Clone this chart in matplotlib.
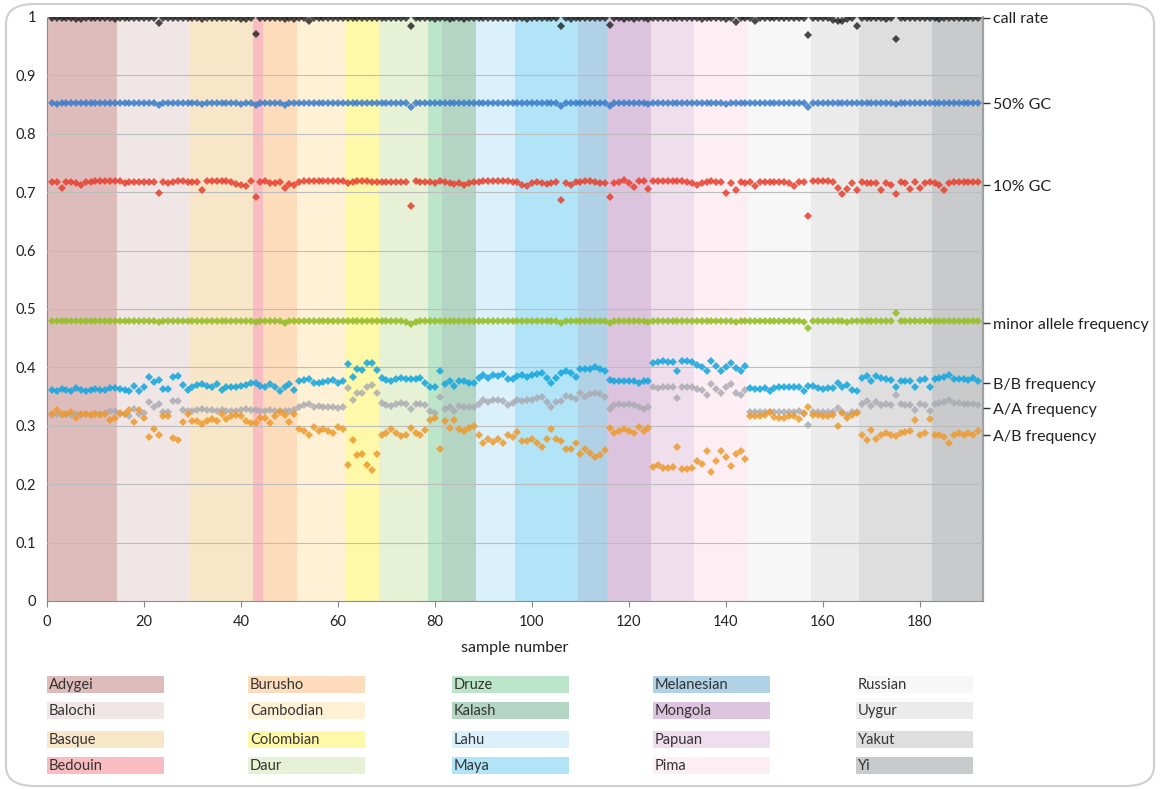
import numpy as np
import matplotlib.pyplot as plt
from matplotlib.patches import FancyBboxPatch, Rectangle

plt.rcParams['font.family'] = ['Lato', 'DejaVu Sans']

W, H = 1160, 789

POPULATIONS = ["Adygei", "Balochi", "Basque", "Bedouin", "Burusho", "Cambodian", "Colombian",
               "Daur", "Druze", "Kalash", "Lahu", "Maya", "Melanesian", "Mongola", "Papuan",
               "Pima", "Russian", "Uygur", "Yakut", "Yi"]
GROUP_SIZES = [14, 15, 13, 2, 7, 10, 7, 10, 3, 7, 8, 13, 6, 9, 9, 11, 13, 10, 15, 10]
BAND_COLORS = ["#dfbcbc", "#f1e6e6", "#f8e6c8", "#f9bcc0", "#fddcbc", "#fff1d6", "#fef9a8",
               "#e6f1d6", "#bde5c9", "#b5d5c4", "#daf0fa", "#b1e4f7", "#b0d1e6", "#dcc4de",
               "#efdeeb", "#fdeef3", "#f7f7f7", "#ebebeb", "#dedede", "#c9cacb"]

# one value per sample, lines follow the population order
CALL_RATE = [
    0.998, 0.998, 0.998, 0.998, 0.998, 0.997, 0.996, 0.998, 0.999, 0.999, 0.999, 0.999, 0.999, 0.996,
    0.999, 0.999, 0.999, 0.999, 0.999, 0.999, 0.999, 0.999, 0.989, 0.999, 0.999, 0.999, 0.999, 0.999, 0.998,
    0.999, 0.999, 0.996, 0.999, 0.999, 0.999, 0.999, 0.999, 0.999, 0.998, 0.997, 0.996, 0.999,
    0.971, 0.999,
    0.999, 0.999, 0.999, 0.999, 0.997, 0.999, 0.997,
    0.999, 0.999, 0.993, 0.999, 0.999, 0.999, 0.999, 0.999, 0.999, 0.999,
    0.999, 0.999, 0.999, 0.999, 0.999, 0.999, 0.999,
    0.999, 0.999, 0.999, 0.999, 0.999, 0.999, 0.984, 0.999, 0.999, 0.998,
    0.998, 0.997, 0.998,
    0.998, 0.997, 0.998, 0.998, 0.997, 0.998, 0.998,
    0.999, 0.999, 0.999, 0.999, 0.998, 0.999, 0.999, 0.999,
    0.998, 0.998, 0.996, 0.998, 0.998, 0.998, 0.998, 0.998, 0.998, 0.985, 0.998, 0.997, 0.998,
    0.998, 0.998, 0.998, 0.998, 0.998, 0.998,
    0.986, 0.998, 0.998, 0.996, 0.998, 0.997, 0.998, 0.998, 0.996,
    0.999, 0.999, 0.999, 0.999, 0.999, 0.999, 0.999, 0.999, 0.999,
    0.999, 0.996, 0.999, 0.999, 0.999, 0.999, 0.996, 0.999, 0.991, 0.999, 0.999,
    0.999, 0.993, 0.999, 0.999, 0.999, 0.999, 0.999, 0.999, 0.999, 0.998, 0.998, 0.998, 0.969,
    0.999, 0.999, 0.999, 0.999, 0.995, 0.993, 0.993, 0.996, 0.999, 0.985,
    0.999, 0.999, 0.999, 0.999, 0.999, 0.997, 0.999, 0.962, 0.999, 0.999, 0.998, 0.999, 0.999, 0.999, 0.999,
    0.998, 0.996, 0.998, 0.998, 0.998, 0.998, 0.998, 0.998, 0.998, 0.998,
]

GC_50 = [
    0.852, 0.851, 0.852, 0.852, 0.852, 0.852, 0.852, 0.852, 0.852, 0.852, 0.852, 0.852, 0.852, 0.852,
    0.852, 0.852, 0.852, 0.852, 0.852, 0.852, 0.852, 0.852, 0.849, 0.852, 0.852, 0.852, 0.852, 0.852, 0.852,
    0.852, 0.852, 0.851, 0.852, 0.852, 0.852, 0.852, 0.852, 0.852, 0.852, 0.851, 0.852, 0.852,
    0.849, 0.852,
    0.852, 0.852, 0.852, 0.852, 0.850, 0.852, 0.852,
    0.852, 0.852, 0.852, 0.852, 0.852, 0.852, 0.852, 0.852, 0.852, 0.852,
    0.852, 0.852, 0.852, 0.852, 0.852, 0.852, 0.852,
    0.852, 0.852, 0.852, 0.852, 0.852, 0.852, 0.846, 0.852, 0.852, 0.852,
    0.852, 0.852, 0.852,
    0.852, 0.852, 0.852, 0.852, 0.852, 0.852, 0.852,
    0.852, 0.852, 0.852, 0.852, 0.852, 0.852, 0.852, 0.852,
    0.852, 0.852, 0.852, 0.852, 0.852, 0.852, 0.852, 0.852, 0.852, 0.848, 0.852, 0.852, 0.852,
    0.852, 0.852, 0.852, 0.852, 0.852, 0.852,
    0.848, 0.852, 0.852, 0.852, 0.852, 0.852, 0.852, 0.852, 0.851,
    0.852, 0.852, 0.852, 0.852, 0.852, 0.852, 0.852, 0.852, 0.852,
    0.852, 0.852, 0.852, 0.852, 0.852, 0.852, 0.851, 0.852, 0.852, 0.852, 0.852,
    0.852, 0.852, 0.852, 0.852, 0.852, 0.852, 0.852, 0.852, 0.852, 0.852, 0.852, 0.852, 0.846,
    0.852, 0.852, 0.852, 0.852, 0.852, 0.852, 0.852, 0.852, 0.852, 0.852,
    0.852, 0.852, 0.852, 0.852, 0.852, 0.852, 0.852, 0.851, 0.852, 0.852, 0.852, 0.852, 0.852, 0.852, 0.852,
    0.852, 0.852, 0.852, 0.852, 0.852, 0.852, 0.852, 0.852, 0.852, 0.852,
]

GC_10 = [
    0.718, 0.718, 0.708, 0.718, 0.718, 0.716, 0.713, 0.717, 0.718, 0.719, 0.719, 0.719, 0.719, 0.719,
    0.719, 0.716, 0.718, 0.718, 0.718, 0.718, 0.718, 0.718, 0.698, 0.717, 0.716, 0.718, 0.719, 0.719, 0.718,
    0.718, 0.718, 0.704, 0.719, 0.719, 0.719, 0.719, 0.719, 0.718, 0.714, 0.713, 0.711, 0.719,
    0.692, 0.718,
    0.719, 0.716, 0.716, 0.718, 0.707, 0.714, 0.713,
    0.718, 0.719, 0.719, 0.719, 0.719, 0.719, 0.719, 0.719, 0.719, 0.719,
    0.716, 0.717, 0.719, 0.719, 0.719, 0.718, 0.718,
    0.718, 0.718, 0.717, 0.717, 0.718, 0.718, 0.677, 0.719, 0.718, 0.717,
    0.717, 0.716, 0.719,
    0.717, 0.715, 0.714, 0.715, 0.713, 0.716, 0.718,
    0.718, 0.719, 0.719, 0.719, 0.719, 0.719, 0.719, 0.718,
    0.718, 0.712, 0.710, 0.716, 0.718, 0.716, 0.714, 0.716, 0.718, 0.687, 0.716, 0.712, 0.718,
    0.718, 0.720, 0.720, 0.718, 0.716, 0.715,
    0.692, 0.716, 0.718, 0.721, 0.715, 0.709, 0.720, 0.720, 0.705,
    0.719, 0.719, 0.719, 0.719, 0.719, 0.719, 0.719, 0.718, 0.716,
    0.712, 0.716, 0.718, 0.720, 0.718, 0.718, 0.699, 0.715, 0.703, 0.718, 0.716,
    0.718, 0.711, 0.718, 0.718, 0.718, 0.718, 0.718, 0.718, 0.716, 0.711, 0.718, 0.718, 0.660,
    0.720, 0.720, 0.720, 0.720, 0.718, 0.707, 0.697, 0.705, 0.716, 0.703,
    0.718, 0.716, 0.715, 0.716, 0.704, 0.715, 0.712, 0.697, 0.718, 0.715, 0.705, 0.718, 0.707, 0.716, 0.718,
    0.715, 0.712, 0.703, 0.716, 0.718, 0.718, 0.718, 0.718, 0.718, 0.718,
]

MAF = [
    0.479, 0.479, 0.479, 0.479, 0.479, 0.479, 0.479, 0.479, 0.479, 0.479, 0.479, 0.479, 0.479, 0.479,
    0.479, 0.479, 0.479, 0.480, 0.479, 0.479, 0.479, 0.479, 0.478, 0.479, 0.479, 0.479, 0.479, 0.479, 0.479,
    0.479, 0.479, 0.479, 0.479, 0.479, 0.479, 0.479, 0.479, 0.479, 0.479, 0.479, 0.479, 0.479,
    0.477, 0.479,
    0.479, 0.479, 0.480, 0.479, 0.476, 0.479, 0.479,
    0.479, 0.479, 0.479, 0.479, 0.479, 0.479, 0.479, 0.479, 0.479, 0.479,
    0.479, 0.479, 0.480, 0.480, 0.480, 0.480, 0.479,
    0.479, 0.479, 0.479, 0.479, 0.479, 0.478, 0.474, 0.478, 0.479, 0.479,
    0.479, 0.479, 0.479,
    0.479, 0.479, 0.479, 0.479, 0.479, 0.479, 0.479,
    0.479, 0.479, 0.479, 0.479, 0.479, 0.479, 0.479, 0.479,
    0.479, 0.479, 0.479, 0.479, 0.479, 0.479, 0.479, 0.479, 0.479, 0.476, 0.479, 0.479, 0.479,
    0.479, 0.479, 0.479, 0.479, 0.479, 0.479,
    0.476, 0.479, 0.479, 0.479, 0.479, 0.479, 0.479, 0.479, 0.477,
    0.479, 0.479, 0.479, 0.479, 0.479, 0.479, 0.479, 0.479, 0.479,
    0.479, 0.479, 0.479, 0.479, 0.479, 0.479, 0.479, 0.479, 0.478, 0.479, 0.479,
    0.479, 0.479, 0.479, 0.479, 0.479, 0.479, 0.479, 0.479, 0.479, 0.479, 0.479, 0.478, 0.467,
    0.479, 0.479, 0.479, 0.479, 0.479, 0.479, 0.479, 0.478, 0.479, 0.479,
    0.479, 0.479, 0.479, 0.479, 0.479, 0.479, 0.479, 0.494, 0.479, 0.479, 0.479, 0.479, 0.479, 0.479, 0.479,
    0.479, 0.479, 0.479, 0.479, 0.479, 0.479, 0.479, 0.479, 0.479, 0.479,
]

BB_FREQ = [
    0.362, 0.359, 0.363, 0.362, 0.360, 0.364, 0.362, 0.360, 0.362, 0.363, 0.361, 0.362, 0.365, 0.364,
    0.363, 0.362, 0.359, 0.369, 0.359, 0.366, 0.383, 0.375, 0.379, 0.363, 0.363, 0.384, 0.386, 0.370, 0.361,
    0.367, 0.370, 0.372, 0.368, 0.367, 0.371, 0.361, 0.366, 0.366, 0.366, 0.368, 0.370, 0.373,
    0.373, 0.368,
    0.366, 0.372, 0.366, 0.360, 0.367, 0.371, 0.362,
    0.376, 0.379, 0.380, 0.373, 0.374, 0.375, 0.376, 0.379, 0.373, 0.376,
    0.405, 0.384, 0.397, 0.396, 0.407, 0.408, 0.396,
    0.381, 0.379, 0.376, 0.380, 0.381, 0.380, 0.380, 0.380, 0.381, 0.374,
    0.367, 0.367, 0.394,
    0.372, 0.376, 0.368, 0.376, 0.377, 0.374, 0.373,
    0.381, 0.387, 0.381, 0.387, 0.385, 0.389, 0.380, 0.380,
    0.385, 0.387, 0.384, 0.387, 0.389, 0.391, 0.381, 0.373, 0.381, 0.391, 0.393, 0.391, 0.384,
    0.397, 0.398, 0.398, 0.401, 0.398, 0.394,
    0.379, 0.377, 0.377, 0.376, 0.377, 0.376, 0.373, 0.377, 0.376,
    0.407, 0.410, 0.411, 0.410, 0.409, 0.393, 0.411, 0.411, 0.409,
    0.404, 0.401, 0.393, 0.411, 0.402, 0.393, 0.400, 0.407, 0.399, 0.393, 0.402,
    0.364, 0.363, 0.363, 0.364, 0.360, 0.364, 0.366, 0.366, 0.366, 0.366, 0.366, 0.359, 0.368,
    0.368, 0.364, 0.363, 0.364, 0.364, 0.373, 0.366, 0.370, 0.362, 0.359,
    0.381, 0.385, 0.376, 0.385, 0.381, 0.380, 0.379, 0.367, 0.377, 0.377, 0.377, 0.367, 0.379, 0.380, 0.366,
    0.380, 0.381, 0.383, 0.387, 0.380, 0.380, 0.380, 0.379, 0.381, 0.376,
]

AA_FREQ = [
    0.318, 0.321, 0.319, 0.320, 0.318, 0.321, 0.319, 0.320, 0.318, 0.320, 0.321, 0.322, 0.325, 0.325,
    0.321, 0.321, 0.316, 0.328, 0.321, 0.322, 0.340, 0.333, 0.338, 0.323, 0.323, 0.342, 0.342, 0.327, 0.325,
    0.325, 0.327, 0.328, 0.327, 0.327, 0.325, 0.327, 0.325, 0.325, 0.325, 0.327, 0.328, 0.327,
    0.327, 0.325,
    0.325, 0.327, 0.325, 0.325, 0.325, 0.325, 0.327,
    0.333, 0.336, 0.338, 0.333, 0.334, 0.332, 0.333, 0.333, 0.331, 0.332,
    0.365, 0.345, 0.357, 0.357, 0.367, 0.370, 0.356,
    0.339, 0.336, 0.334, 0.338, 0.339, 0.338, 0.328, 0.337, 0.338, 0.336,
    0.325, 0.322, 0.350,
    0.328, 0.332, 0.325, 0.334, 0.333, 0.333, 0.332,
    0.338, 0.345, 0.340, 0.344, 0.344, 0.342, 0.336, 0.339,
    0.344, 0.342, 0.345, 0.345, 0.347, 0.350, 0.340, 0.333, 0.340, 0.342, 0.351, 0.350, 0.346,
    0.356, 0.350, 0.355, 0.357, 0.355, 0.350,
    0.328, 0.336, 0.338, 0.336, 0.338, 0.336, 0.333, 0.329, 0.333,
    0.366, 0.365, 0.366, 0.367, 0.366, 0.348, 0.367, 0.367, 0.366,
    0.363, 0.362, 0.353, 0.372, 0.363, 0.356, 0.366, 0.372, 0.356, 0.353, 0.362,
    0.324, 0.324, 0.324, 0.324, 0.324, 0.324, 0.324, 0.324, 0.324, 0.324, 0.326, 0.320, 0.302,
    0.323, 0.323, 0.323, 0.323, 0.323, 0.330, 0.323, 0.319, 0.323, 0.323,
    0.338, 0.342, 0.334, 0.340, 0.336, 0.338, 0.336, 0.353, 0.338, 0.336, 0.336, 0.327, 0.338, 0.336, 0.325,
    0.338, 0.339, 0.340, 0.344, 0.339, 0.339, 0.338, 0.338, 0.338, 0.336,
]

AB_FREQ = [
    0.320, 0.327, 0.320, 0.320, 0.324, 0.313, 0.321, 0.320, 0.318, 0.321, 0.318, 0.320, 0.310, 0.313,
    0.322, 0.320, 0.327, 0.306, 0.327, 0.313, 0.281, 0.294, 0.285, 0.317, 0.316, 0.279, 0.275, 0.307, 0.321,
    0.309, 0.309, 0.303, 0.309, 0.312, 0.309, 0.320, 0.311, 0.316, 0.319, 0.316, 0.309, 0.305,
    0.305, 0.313,
    0.313, 0.305, 0.316, 0.323, 0.319, 0.306, 0.321,
    0.295, 0.291, 0.285, 0.298, 0.291, 0.295, 0.291, 0.288, 0.298, 0.294,
    0.233, 0.275, 0.250, 0.251, 0.233, 0.224, 0.251,
    0.284, 0.288, 0.294, 0.288, 0.283, 0.285, 0.296, 0.287, 0.285, 0.292,
    0.310, 0.313, 0.260,
    0.308, 0.297, 0.310, 0.294, 0.291, 0.296, 0.299,
    0.284, 0.270, 0.278, 0.272, 0.277, 0.270, 0.285, 0.280,
    0.289, 0.274, 0.274, 0.278, 0.270, 0.263, 0.278, 0.295, 0.278, 0.274, 0.261, 0.260, 0.270,
    0.251, 0.260, 0.254, 0.246, 0.250, 0.259,
    0.297, 0.288, 0.291, 0.294, 0.291, 0.288, 0.298, 0.291, 0.297,
    0.230, 0.233, 0.227, 0.227, 0.230, 0.264, 0.226, 0.226, 0.227,
    0.239, 0.235, 0.256, 0.221, 0.239, 0.257, 0.246, 0.231, 0.252, 0.257, 0.243,
    0.316, 0.316, 0.316, 0.319, 0.323, 0.315, 0.314, 0.314, 0.316, 0.316, 0.311, 0.322, 0.332,
    0.319, 0.319, 0.317, 0.317, 0.319, 0.299, 0.322, 0.314, 0.319, 0.322,
    0.285, 0.276, 0.293, 0.278, 0.285, 0.288, 0.285, 0.283, 0.288, 0.289, 0.291, 0.310, 0.285, 0.288, 0.312,
    0.285, 0.284, 0.281, 0.271, 0.285, 0.288, 0.284, 0.288, 0.284, 0.291,
]

# series drawn back to front: (values, colour, alpha, right-hand label, label position)
SERIES = [
    (AA_FREQ, "#a9a9b2", 0.80, "A/A frequency", 0.330),
    (AB_FREQ, "#ee9a2c", 0.85, "A/B frequency", 0.284),
    (BB_FREQ, "#12a6de", 0.85, "B/B frequency", 0.373),
    (MAF, "#98bf2a", 0.90, "minor allele frequency", 0.476),
    (GC_10, "#e8402e", 0.85, "10% GC", 0.712),
    (GC_50, "#3a7cc8", 0.85, "50% GC", 0.852),
    (CALL_RATE, "#1e1e1e", 0.80, "call rate", 0.999),
]

LEGEND_COLS_PX = [47, 248, 452, 653, 856]
LEGEND_ROWS_PX = [684, 710, 739, 765]


def px_box(left, top, right, bottom):
    return [left / W, 1 - bottom / H, (right - left) / W, (bottom - top) / H]


def draw_bands(ax):
    ends = np.cumsum(GROUP_SIZES)
    edges = [0] + [e + 0.5 for e in ends[:-1]] + [ends[-1] + 1]
    for i, color in enumerate(BAND_COLORS):
        ax.axvspan(edges[i], edges[i + 1], color=color, lw=0, zorder=0)


def draw_legend(fig):
    for k, (name, color) in enumerate(zip(POPULATIONS, BAND_COLORS)):
        col, row = divmod(k, 4)
        left = LEGEND_COLS_PX[col]
        yc = LEGEND_ROWS_PX[row]
        fig.add_artist(Rectangle((left / W, 1 - (yc + 8.5) / H), 117 / W, 17 / H,
                                 transform=fig.transFigure, facecolor=color, lw=0))
        fig.text((left + 2) / W, 1 - (yc + 1) / H, name, fontsize=10.5,
                 color="#333333", va="center", ha="left")


def main():
    fig = plt.figure(figsize=(W / 100, H / 100), dpi=100)
    fig.patches.append(FancyBboxPatch((6 / W, 3 / H), 1148 / W, 782 / H,
                                      boxstyle="round,pad=0,rounding_size=0.025",
                                      transform=fig.transFigure, facecolor="white",
                                      edgecolor="#cfcfcf", lw=1.5, zorder=-5))
    ax = fig.add_axes(px_box(47, 17, 983, 601))
    ax.set_facecolor("white")
    draw_bands(ax)

    x = np.arange(1, len(CALL_RATE) + 1)
    for values, color, alpha, _, _ in SERIES:
        ax.plot(x, values, "D", ms=3.9, mew=0, color=color, alpha=alpha, zorder=3)

    ax.set_xlim(0, 193)
    ax.set_ylim(0, 1)
    yt = np.round(np.arange(0, 1.01, 0.1), 1)
    ax.set_yticks(yt)
    ax.set_yticklabels([f"{v:g}" for v in yt])
    ax.set_xticks(np.arange(0, 181, 20))
    ax.grid(axis="y", color="#bdbdbd", lw=0.8, zorder=1)
    ax.set_axisbelow(False)
    for line in ax.get_ygridlines():
        line.set_zorder(1)
    ax.tick_params(axis="y", length=0, pad=8, labelsize=10.5, colors="#222222")
    ax.tick_params(axis="x", length=4, color="#888888", pad=6, labelsize=10.5, labelcolor="#222222")
    ax.spines["top"].set_visible(False)
    ax.spines["left"].set_color("#8c8c8c")
    ax.spines["bottom"].set_color("#8c8c8c")
    ax.spines["right"].set_color("#a0a0a0")
    ax.spines["right"].set_linewidth(1.6)
    ax.set_xlabel("sample number", fontsize=11.5, color="#222222", labelpad=9)

    right = ax.twinx()
    right.set_ylim(0, 1)
    right.set_yticks([s[4] for s in SERIES])
    right.set_yticklabels([s[3] for s in SERIES])
    right.tick_params(axis="y", length=5, width=1, color="#333333", pad=2,
                      labelsize=11.5, labelcolor="#222222")
    for side in ["top", "left", "bottom", "right"]:
        right.spines[side].set_visible(False)

    draw_legend(fig)
    fig.savefig("out.png", dpi=100)


main()
